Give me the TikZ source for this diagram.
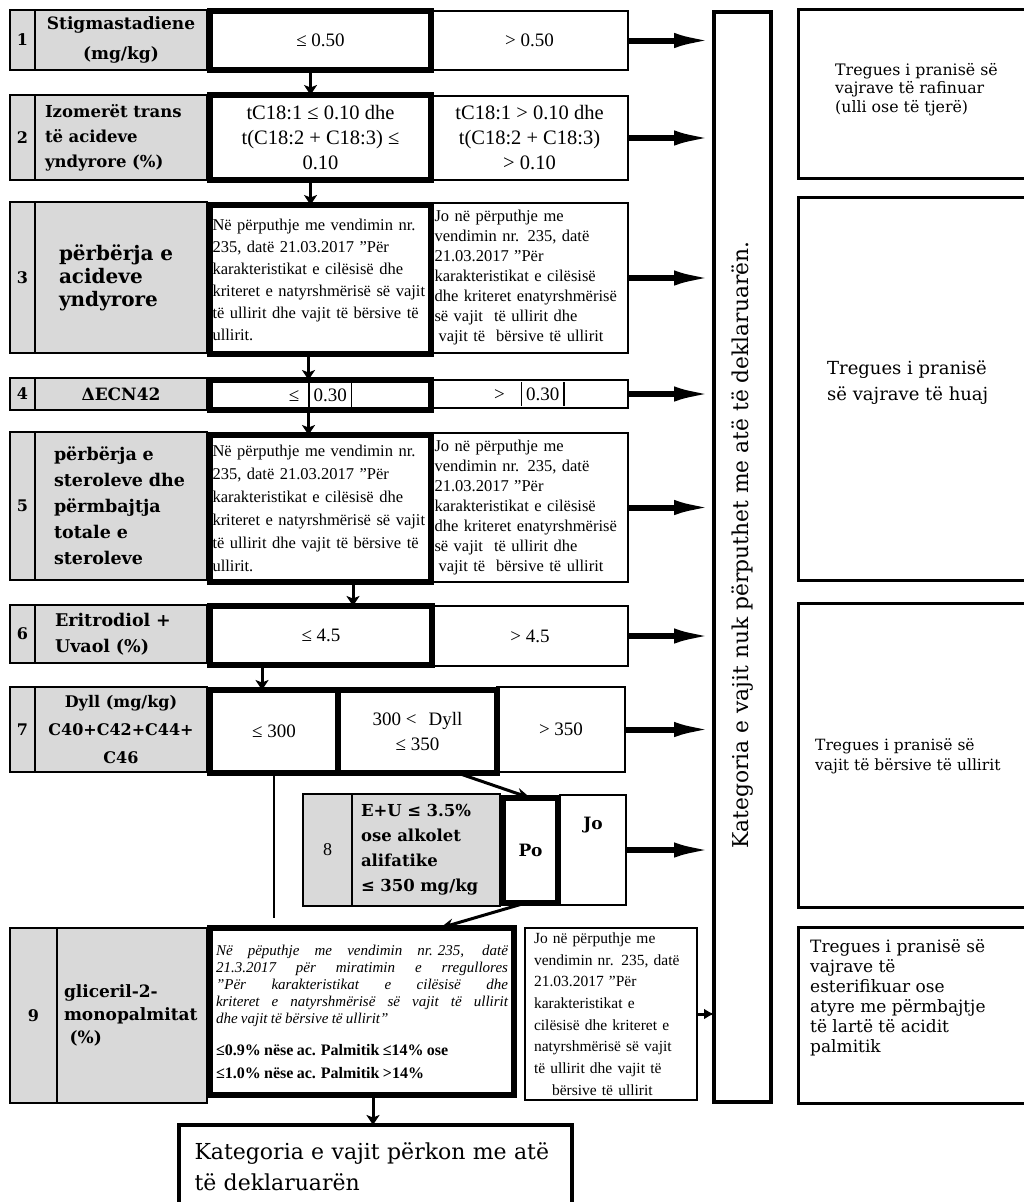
\documentclass[tikz,border=0pt]{standalone}
\usepackage{fontspec}
\setmainfont{Liberation Serif}
\newfontfamily\camfont{DejaVu Serif}
\usetikzlibrary{arrows.meta}
\definecolor{cellgray}{HTML}{D9D9D9}
\setlength\parindent{0pt}

% box by its corners: name, x1, y1, x2, y2, style, text
\newcommand\cellbox[7]{%
  \node[#6, minimum width={(#4)-(#2)}, minimum height={(#5)-(#3)}] (#1) at (#2,#3) {#7};}
% one fully justified line of the given width
\newcommand\jline[2]{\makebox[#1][s]{\spaceskip=.25em plus 1fill\relax #2}}

\tikzset{
  cellbase/.style={draw=black, anchor=north west, outer sep=0pt, inner sep=0pt},
  graycell/.style={cellbase, fill=cellgray, line width=2.5pt},
  okbox/.style={cellbase, fill=white, line width=6pt},
  nobox/.style={cellbase, fill=white, line width=1.8pt},
  notebox/.style={cellbase, fill=white, line width=3pt},
  numtxt/.style={font=\camfont\bfseries\fontsize{16}{20}\selectfont},
  valtxt/.style={font=\fontsize{19}{25}\selectfont, align=center},
  ruletxt/.style={font=\fontsize{16.5}{22}\selectfont, align=left},
  notetxt/.style={anchor=north west, inner sep=0pt, align=left},
  downarr/.style={line width=3pt, -{Stealth[length=10pt,width=13pt,inset=2.5pt]}},
  outarr/.style={line width=6pt, -{Latex[length=40pt,width=15pt]}},
  outsmall/.style={line width=3pt, -{Latex[length=10pt,width=11pt]}},
  diagarr/.style={line width=3pt, -{Stealth[length=14pt,width=11pt]}},
}

\begin{document}
\begin{tikzpicture}[x=1pt,y=-1pt]
\fill[white] (0,0) rectangle (1023,1202);
\useasboundingbox (0,0) rectangle (1023,1202);

% ---------- label cells ----------
\cellbox{n1}{10}{10}{35}{70}{graycell,numtxt}{1}
\cellbox{l1}{35}{10}{207}{70}{graycell,align=center,font=\camfont\bfseries\fontsize{17}{30}\selectfont}{Stigmastadiene\\(mg/kg)}

\cellbox{n2}{10}{95}{35}{180}{graycell,numtxt}{2}
\cellbox{l2}{35}{95}{207}{180}{graycell,align=left,text width=152pt,font=\camfont\bfseries\fontsize{16.5}{25}\selectfont}{Izomerët trans\\të acideve\\yndyrore (\%)}

\cellbox{n3}{10}{202}{35}{353}{graycell,numtxt}{3}
\cellbox{l3}{35}{202}{207}{353}{graycell,align=left,text width=124pt,font=\camfont\bfseries\fontsize{20}{23}\selectfont}{përbërja e\\acideve\\yndyrore}

\cellbox{n4}{10}{378}{35}{410}{graycell,numtxt}{4}
\cellbox{l4}{35}{378}{207}{410}{graycell,font=\camfont\bfseries\fontsize{17}{20}\selectfont}{ΔECN42}

\cellbox{n5}{10}{432}{35}{580}{graycell,numtxt}{5}
\cellbox{l5}{35}{432}{207}{580}{graycell,align=left,text width=134pt,font=\camfont\bfseries\fontsize{17.5}{26}\selectfont}{përbërja e\\steroleve dhe\\përmbajtja\\totale e\\steroleve}

\cellbox{n6}{10}{605}{35}{663}{graycell,numtxt}{6}
\cellbox{l6}{35}{605}{207}{663}{graycell,align=left,text width=132pt,font=\camfont\bfseries\fontsize{17.5}{26}\selectfont}{Eritrodiol +\\Uvaol (\%)}

\cellbox{n7}{10}{687}{35}{772}{graycell,numtxt}{7}
\cellbox{l7}{35}{687}{207}{772}{graycell,align=center,font=\camfont\bfseries\fontsize{16}{28}\selectfont}{Dyll (mg/kg)\\C40+C42+C44+\\C46}

\cellbox{n8}{303}{794}{352}{906}{graycell,font=\fontsize{18}{20}\selectfont}{8}
\cellbox{l8}{352}{794}{500}{906}{graycell,align=left,text width=130pt,font=\camfont\bfseries\fontsize{16.5}{25}\selectfont}{E+U ≤ 3.5\%\\ose alkolet\\alifatike\\≤ 350 mg/kg}

\cellbox{n9}{10}{928}{57}{1103}{graycell,numtxt}{9}
\cellbox{l9}{57}{928}{207}{1103}{graycell,align=left,text width=136pt,font=\camfont\bfseries\fontsize{17}{23}\selectfont}{gliceril-2-\\monopalmitat\\\ (\%)}

% ---------- failing ranges ----------
\cellbox{j1}{431}{11}{628}{70}{nobox,valtxt}{> 0.50}
\cellbox{j2}{431}{96}{628}{180}{nobox,valtxt,font=\fontsize{20.5}{25}\selectfont}{tC18:1 > 0.10 dhe\\t(C18:2 + C18:3)\\> 0.10}
\cellbox{j3}{431}{203}{628}{353}{nobox,ruletxt,text width=190pt,font=\fontsize{16.5}{20}\selectfont}{Jo në përputhje me\\vendimin nr. 235, datë\\21.03.2017 "Për\\karakteristikat e cilësisë\\dhe kriteret enatyrshmërisë\\së vajit\ \ të ullirit dhe\\\hspace*{4pt}vajit të\ \ bërsive të ullirit}
\cellbox{j4}{431}{380}{628}{408}{nobox,valtxt}{>\hspace{16pt}\rule[-6pt]{1.3pt}{24pt}\hspace{4pt}0.30\hspace{4pt}\rule[-6pt]{1.3pt}{24pt}}
\cellbox{j5}{431}{433}{628}{582}{nobox,ruletxt,text width=190pt,font=\fontsize{16.5}{20}\selectfont}{Jo në përputhje me\\vendimin nr. 235, datë\\21.03.2017 "Për\\karakteristikat e cilësisë\\dhe kriteret enatyrshmërisë\\së vajit\ \ të ullirit dhe\\\hspace*{4pt}vajit të\ \ bërsive të ullirit}
\cellbox{j6}{432}{606}{628}{666}{nobox,valtxt}{> 4.5}
\cellbox{j7}{497}{687}{625}{772}{nobox,valtxt}{> 350}
\cellbox{jo8}{560}{795}{626}{905}{nobox,font=\camfont\bfseries\fontsize{17}{20}\selectfont}{\raisebox{25pt}[\height][\depth]{Jo}}
\cellbox{j9}{525}{928}{697}{1100}{nobox,ruletxt,text width=154pt,font=\fontsize{15.5}{21.7}\selectfont}{Jo në përputhje me\\vendimin nr. 235, datë\\21.03.2017 "Për\\karakteristikat e\\cilësisë dhe kriteret e\\natyrshmërisë së vajit\\të ullirit dhe vajit të\\\hspace*{18pt}bërsive të ullirit}

% ---------- passing ranges ----------
\cellbox{p1}{210}{11}{431}{70}{okbox,valtxt}{≤ 0.50}
\cellbox{p2}{210}{95}{431}{180}{okbox,valtxt,font=\fontsize{20.5}{25}\selectfont}{tC18:1 ≤ 0.10 dhe\\t(C18:2 + C18:3) ≤\\0.10}
\cellbox{p3}{210}{205}{431}{354}{okbox,ruletxt,text width=216pt}{Në përputhje me vendimin nr.\\235, datë 21.03.2017 "Për\\karakteristikat e cilësisë dhe\\kriteret e natyrshmërisë së vajit\\të ullirit dhe vajit të bërsive të\\ullirit.}
\cellbox{p4}{210}{380}{431}{410}{okbox,valtxt}{≤\hspace{9pt}\rule[-6pt]{1.3pt}{24pt}\hspace{4pt}0.30\hspace{4pt}\rule[-6pt]{1.3pt}{24pt}}
\cellbox{p5}{210}{435}{431}{582}{okbox,ruletxt,text width=216pt,font=\fontsize{16.5}{23}\selectfont}{Në përputhje me vendimin nr.\\235, datë 21.03.2017 "Për\\karakteristikat e cilësisë dhe\\kriteret e natyrshmërisë së vajit\\të ullirit dhe vajit të bërsive të\\ullirit.}
\cellbox{p6}{210}{606}{432}{665}{okbox,valtxt}{≤ 4.5}
\cellbox{p7a}{210}{690}{338}{773}{okbox,valtxt}{≤ 300}
\cellbox{p7b}{338}{690}{497}{773}{okbox,valtxt}{300 <\hspace{12pt}Dyll\\≤ 350}
\cellbox{po}{503}{798}{558}{903}{okbox,font=\camfont\bfseries\fontsize{17}{20}\selectfont}{Po}
\cellbox{p9}{210}{928}{514}{1095}{okbox,text width=292pt,align=left}{%
{\itshape\fontsize{15}{17}\selectfont
\jline{292pt}{Në pëputhje me vendimin nr. 235, datë}\\
\jline{292pt}{21.3.2017 për miratimin e rregullores}\\
\jline{292pt}{"Për karakteristikat e cilësisë dhe}\\
\jline{292pt}{kriteret e natyrshmërisë së vajit të ullirit}\\
dhe vajit të bërsive të ullirit"\par}
\vskip 9pt
{\bfseries\fontsize{16}{23}\selectfont ≤0.9\% nëse ac. Palmitik ≤14\% ose\\
≤1.0\% nëse ac. Palmitik >14\%\par}}

% ---------- final outcome ----------
\cellbox{fin}{179}{1125}{572}{1208}{cellbase,fill=white,line width=4pt,text width=362pt,align=left,font=\camfont\fontsize{22}{31}\selectfont}{Kategoria e vajit përkon me atë\\të deklaruarën}

% ---------- rejection column ----------
\cellbox{vbox}{714}{12}{771}{1102}{cellbase,fill=white,line width=4pt}{}
\node[rotate=90, inner sep=0pt, font=\camfont\fontsize{21.8}{24}\selectfont] (vtext) at ([yshift=12pt]vbox.center) {Kategoria e vajit nuk përputhet me atë të deklaruarën.};

% ---------- indications ----------
\cellbox{rb1}{798}{9}{1040}{178}{notebox}{}
\cellbox{rb2}{798}{197}{1040}{580}{notebox}{}
\cellbox{rb3}{798}{603}{1040}{907}{notebox}{}
\cellbox{rb4}{798}{927}{1040}{1103}{notebox}{}
\node[notetxt, font=\camfont\fontsize{15.8}{18.5}\selectfont] (rb1t) at (835,63) {Tregues i pranisë së\\vajrave të rafinuar\\(ulli ose të tjerë)};
\node[notetxt, font=\camfont\fontsize{18}{26}\selectfont] (rb2t) at (827,361) {Tregues i pranisë\\së vajrave të huaj};
\node[notetxt, font=\camfont\fontsize{15.5}{20}\selectfont] (rb3t) at (815,738) {Tregues i pranisë së\\vajit të bërsive të ullirit};
\node[notetxt, font=\camfont\fontsize{17}{20}\selectfont] (rb4t) at (810,939) {Tregues i pranisë së\\vajrave të\\esterifikuar ose\\atyre me përmbajtje\\të lartë të acidit\\palmitik};

% ---------- flow downwards ----------
\draw[downarr] ([xshift=-10pt]p1.south) -- ([xshift=-10pt]p2.north);
\draw[downarr] ([xshift=-10pt]p2.south) -- ([xshift=-10pt]p3.north);
\draw[downarr] ([xshift=-12pt]p3.south) -- ([xshift=-12pt]p4.north);
\draw[downarr] ([xshift=-12pt]p4.south) -- ([xshift=-12pt]p5.north);
\draw[downarr] ([xshift=32.5pt]p5.south) -- ([xshift=32pt]p6.north);
\draw[downarr] ([xshift=-59pt]p6.south) -- ([xshift=-12pt]p7a.north);
\draw[line width=2.5pt] (p7a.south) -- ([yshift=10pt]p7a.south |- p9.north);
\draw[diagarr] ([xshift=40pt]p7b.south) -- (po.north);
\draw[diagarr] ([xshift=-5pt]po.south) -- ([xshift=78pt]p9.north);
\draw[downarr] ([xshift=11pt]p9.south) -- ([xshift=-2.5pt]fin.north);

% ---------- flow to rejection ----------
\foreach \j in {j1,j2,j3,j4,j5,j6,j7,jo8}
  \draw[outarr] (\j.east) -- (vbox.west |- \j.east);
\draw[outsmall] (j9.east) -- (vbox.west |- j9.east);
\end{tikzpicture}
\end{document}
